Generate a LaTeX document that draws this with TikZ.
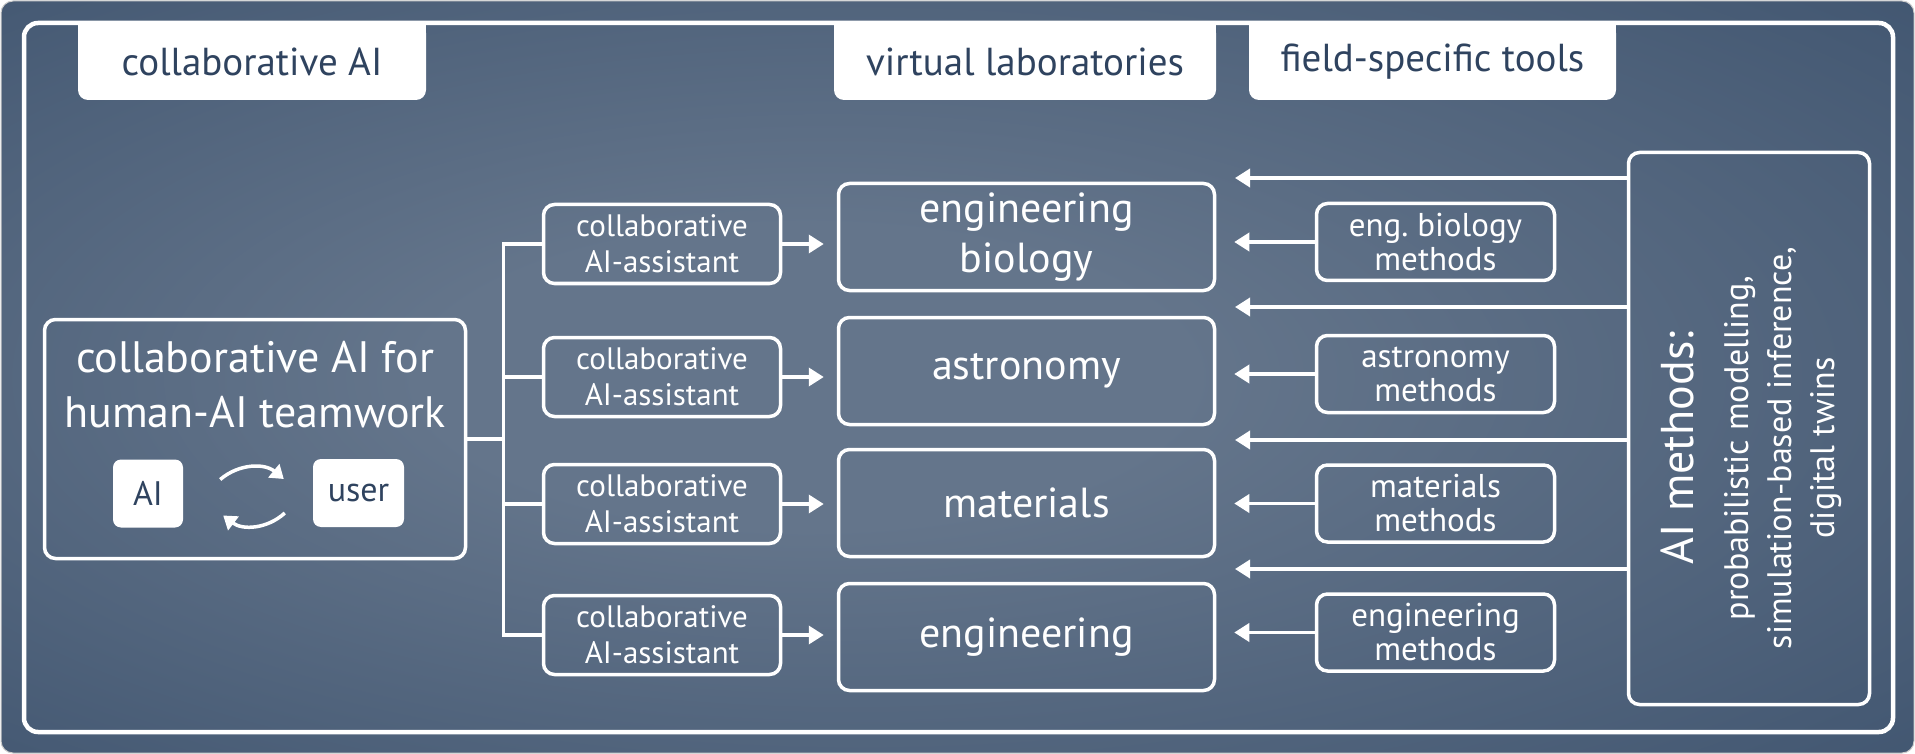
\documentclass[tikz,border=0pt]{standalone}
\usepackage{fontspec}
\setmainfont{PT Sans}
\usepackage{tikz}
\usetikzlibrary{arrows.meta, calc, positioning}
\tikzset{>={Triangle[length=15pt,width=18pt]}}
\definecolor{bgdark}{RGB}{62,83,110}
\definecolor{bglight}{RGB}{100,117,139}
\definecolor{tabtext}{RGB}{47,67,95}
\pgfdeclareradialshading{bgglow}{\pgfpoint{-5bp}{0bp}}{color(0bp)=(bglight); color(10bp)=(bglight); color(40bp)=(bgdark); color(50bp)=(bgdark)}

\begin{document}
\begin{tikzpicture}[x=1pt, y=-1pt,
    box/.style={draw=white, line width=3.5pt, rounded corners=11pt, text=white, align=center, inner sep=0pt},
    tab/.style={fill=white, rounded corners=10pt, text=tabtext, minimum height=77pt, font=\fontsize{39}{42}\selectfont},
    chip/.style={fill=white, rounded corners=8pt, text=tabtext, minimum height=68pt, font=\fontsize{34}{36}\selectfont},
    lab/.style={box, minimum width=376pt, minimum height=107pt, font=\fontsize{42}{50}\selectfont},
    assist/.style={box, minimum width=237pt, minimum height=79pt, font=\fontsize{31}{36}\selectfont},
    field/.style={box, minimum width=238pt, minimum height=77pt, font=\fontsize{33}{34}\selectfont},
    link/.style={white, line width=3.5pt},
    arr/.style={link, ->}]
    \useasboundingbox (0,0) rectangle (1915,754);
    % background and frame
    \shade[shading=bgglow, rounded corners=12pt, draw=gray!40, line width=1pt] (1,1) rectangle (1914,753);
    \draw[white, line width=4.5pt, rounded corners=14pt] (24,23) rectangle (1893,732);

    % tabs
    \fill[white] (78,23) rectangle (426,60);
    \node[tab, minimum width=348pt] (tabcollab) at (252,61.5) {collaborative AI};
    \fill[white] (834,23) rectangle (1216,60);
    \node[tab, minimum width=382pt] (tablab) at (1025,61.5) {virtual laboratories};
    \fill[white] (1249,23) rectangle (1616,60);
    \node[tab, minimum width=367pt] (tabfield) at (1432.5,61.5) {field-specific tools};

    % collaborative AI box
    \node[box, minimum width=421pt, minimum height=239pt] (collab) at (255,439) {};
    \node[text=white, align=center, font=\fontsize{44}{55}\selectfont] (collabtitle) at (255,385) {collaborative AI for\\human-AI teamwork};
    \node[chip, minimum width=70pt] (ai) at (148,493.5) {AI};
    \node[chip, minimum width=91pt] (user) at (358.5,493) {user};
    \draw[arr, >={Triangle[length=13pt,width=17pt]}] ([shift={(37,-14)}]ai.east) to[bend left=40] ([shift={(-29,-14)}]user.west);
    \draw[arr, >={Triangle[length=13pt,width=17pt]}] ([shift={(-28,20)}]user.west) to[bend left=40] ([shift={(40,22)}]ai.east);

    % assistants
    \node[assist] (asst1) at (662,244) {collaborative\\AI-assistant};
    \node[assist] (asst2) at (662,377) {collaborative\\AI-assistant};
    \node[assist] (asst3) at (662,504) {collaborative\\AI-assistant};
    \node[assist] (asst4) at (662,635) {collaborative\\AI-assistant};

    % virtual labs
    \node[lab] (lab1) at (1026.5,237) {engineering\\biology};
    \node[lab] (lab2) at (1026.5,371) {astronomy};
    \node[lab] (lab3) at (1026.5,503) {materials};
    \node[lab] (lab4) at (1026.5,637) {engineering};

    % field-specific methods
    \node[field] (field1) at (1435.5,242) {eng.\ biology\\methods};
    \node[field] (field2) at (1435.5,374) {astronomy\\methods};
    \node[field] (field3) at (1435.5,503.5) {materials\\methods};
    \node[field] (field4) at (1435.5,632.5) {engineering\\methods};

    % AI methods
    \node[box, minimum width=241pt, minimum height=552pt] (aim) at (1749,428.5) {};
    \node[text=white, rotate=90, align=center, font=\fontsize{34}{43}\selectfont] (aimtext) at (1751,448) {{\fontsize{46}{50}\selectfont AI methods:}\\[12pt]probabilistic modelling,\\simulation-based inference,\\digital twins};

    % tree to the assistants
    \coordinate (trunk) at ([xshift=36pt]collab.east);
    \draw[link] (collab.east) -- (trunk);
    \draw[link] (asst1.west) -- (asst1.west -| trunk) -- (asst4.west -| trunk) -- (asst4.west);
    \draw[link] (asst2.west -| trunk) -- (asst2.west);
    \draw[link] (asst3.west -| trunk) -- (asst3.west);

    \draw[arr, shorten >=13pt] (asst1.east) -- (asst1.east -| lab1.west);
    \draw[arr, shorten >=13pt] (asst2.east) -- (asst2.east -| lab2.west);
    \draw[arr, shorten >=13pt] (asst3.east) -- (asst3.east -| lab3.west);
    \draw[arr, shorten >=13pt] (asst4.east) -- (asst4.east -| lab4.west);

    \draw[arr, shorten >=18pt] (field1.west) -- (field1.west -| lab1.east);
    \draw[arr, shorten >=18pt] (field2.west) -- (field2.west -| lab2.east);
    \draw[arr, shorten >=18pt] (field3.west) -- (field3.west -| lab3.east);
    \draw[arr, shorten >=18pt] (field4.west) -- (field4.west -| lab4.east);

    \coordinate (gap1) at (1235,178);
    \coordinate (gap2) at (1235,307);
    \coordinate (gap3) at (1235,440);
    \coordinate (gap4) at (1235,569);
    \draw[arr] (gap1 -| aim.west) -- (gap1);
    \draw[arr] (gap2 -| aim.west) -- (gap2);
    \draw[arr] (gap3 -| aim.west) -- (gap3);
    \draw[arr] (gap4 -| aim.west) -- (gap4);
\end{tikzpicture}
\end{document}
